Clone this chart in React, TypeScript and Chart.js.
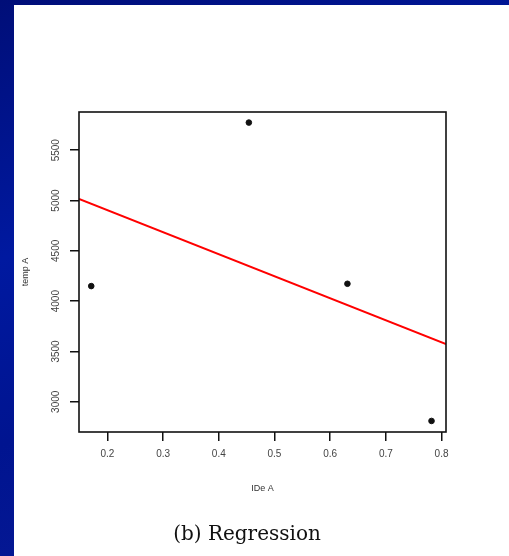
import React, { useEffect, useRef } from "react";
import { Chart, registerables } from "chart.js";

Chart.register(...registerables);

const xValues = [0.171, 0.454, 0.631, 0.782];
const yValues = [4150, 5775, 4173, 2810];
const xTicks = [0.2, 0.3, 0.4, 0.5, 0.6, 0.7, 0.8];
const yTicks = [3000, 3500, 4000, 4500, 5000, 5500];
const xRange = [0.149, 0.808];
const yRange = [2700, 5880];
const xTitle = "IDe A";
const yTitle = "temp A";
const caption = "(b) Regression";

function fitLine(xs: number[], ys: number[]) {
  const n = xs.length;
  const mx = xs.reduce((a, b) => a + b, 0) / n;
  const my = ys.reduce((a, b) => a + b, 0) / n;
  let sxy = 0;
  let sxx = 0;
  for (let i = 0; i < n; i++) {
    sxy += (xs[i] - mx) * (ys[i] - my);
    sxx += (xs[i] - mx) * (xs[i] - mx);
  }
  const slope = sxy / sxx;
  return { slope, intercept: my - slope * mx };
}

const boxPlugin = {
  id: "boxPlugin",
  afterDatasetsDraw(chart: any) {
    const { ctx, chartArea } = chart;
    ctx.save();
    ctx.strokeStyle = "#111";
    ctx.lineWidth = 1.6;
    ctx.strokeRect(chartArea.left, chartArea.top, chartArea.right - chartArea.left, chartArea.bottom - chartArea.top);
    ctx.restore();
  },
};

export default function App() {
  const ref = useRef<HTMLCanvasElement | null>(null);

  useEffect(() => {
    if (!ref.current) return;
    const { slope, intercept } = fitLine(xValues, yValues);
    const lineData = xRange.map((x) => ({ x, y: intercept + slope * x }));
    const chart = new Chart(ref.current, {
      type: "scatter",
      data: {
        datasets: [
          {
            type: "line",
            data: lineData,
            borderColor: "#ff0000",
            borderWidth: 2,
            pointRadius: 0,
            fill: false,
          } as any,
          {
            data: xValues.map((x, i) => ({ x, y: yValues[i] })),
            backgroundColor: "#111",
            borderColor: "#111",
            pointRadius: 2.8,
            pointStyle: "circle",
          },
        ],
      },
      options: {
        responsive: false,
        animation: false,
        events: [],
        layout: { padding: { left: 18, top: 112, right: 63, bottom: 56 } },
        plugins: { legend: { display: false }, tooltip: { enabled: false } },
        scales: {
          x: {
            type: "linear",
            min: xRange[0],
            max: xRange[1],
            afterBuildTicks: (s: any) => {
              s.ticks = xTicks.map((v) => ({ value: v }));
            },
            afterFit: (s: any) => {
              s.height = 68;
            },
            grid: { drawOnChartArea: false, tickLength: 9, color: "#111", lineWidth: 1.5 },
            border: { display: false },
            ticks: {
              color: "#444",
              font: { family: "Liberation Sans", size: 10 },
              padding: 7,
              maxRotation: 0,
              minRotation: 0,
              callback: (v: any) => String(v),
            },
            title: {
              display: true,
              text: xTitle,
              color: "#333",
              font: { family: "Liberation Sans", size: 9 },
              padding: { top: 0, bottom: 6 },
            },
          },
          y: {
            type: "linear",
            min: yRange[0],
            max: yRange[1],
            afterBuildTicks: (s: any) => {
              s.ticks = yTicks.map((v) => ({ value: v }));
            },
            afterFit: (s: any) => {
              s.width = 61;
            },
            grid: { drawOnChartArea: false, tickLength: 9, color: "#111", lineWidth: 1.5 },
            border: { display: false },
            ticks: {
              color: "#444",
              font: { family: "Liberation Sans", size: 10 },
              padding: 3,
              minRotation: 90,
              maxRotation: 90,
              crossAlign: "center",
              callback: (v: any) => String(v),
            },
            title: {
              display: true,
              text: yTitle,
              color: "#333",
              font: { family: "Liberation Sans", size: 9 },
              padding: { top: 2, bottom: 0 },
            },
          },
        },
      },
      plugins: [boxPlugin],
    } as any);
    return () => chart.destroy();
  }, []);

  return (
    <div
      style={{
        position: "absolute",
        left: 0,
        top: 0,
        width: 509,
        height: 556,
        overflow: "hidden",
        background: "linear-gradient(160deg, #000e78 0%, #0019a0 35%, #001490 60%, #0a1c98 100%)",
      }}
    >
      <div
        style={{
          position: "absolute",
          left: 14,
          top: 5,
          right: 0,
          bottom: 0,
          background: "#ffffff",
        }}
      />
      <canvas
        ref={ref}
        width={509}
        height={556}
        style={{ position: "absolute", left: 0, top: 0, width: 509, height: 556 }}
      />
      <div
        style={{
          position: "absolute",
          left: 0,
          width: 494,
          top: 521,
          textAlign: "center",
          fontFamily: "'DejaVu Serif', serif",
          fontSize: 20,
          color: "#111",
          whiteSpace: "pre",
        }}
      >
        {caption}
      </div>
    </div>
  );
}
